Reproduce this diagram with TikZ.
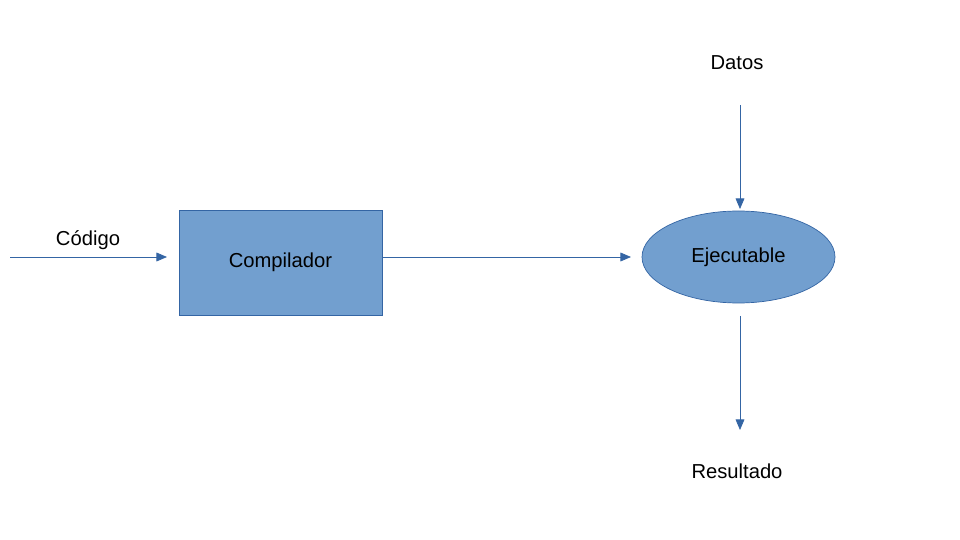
\documentclass[tikz,border=0pt]{standalone}
\usepackage{fontspec}
\setmainfont{Liberation Sans}
\usetikzlibrary{shapes.geometric,arrows.meta}
\definecolor{fillb}{HTML}{729FCF}
\definecolor{lineb}{HTML}{3465A4}
\begin{document}
\begin{tikzpicture}[x=0.02cm,y=-0.02cm,
  conn/.style={draw=lineb,-{Triangle[length=6pt,width=5pt]}},
  lbl/.style={font=\fontsize{11.5}{13}\selectfont}]
\useasboundingbox (0,0) rectangle (960,540);
\node[draw=lineb,fill=fillb,minimum width=203*0.02cm,minimum height=105*0.02cm,lbl] (comp) at (280.5,262.5) {Compilador};
\node[ellipse,draw=lineb,fill=fillb,minimum width=193*0.02cm,minimum height=92*0.02cm,inner sep=0pt,lbl] (ej) at (738.5,257) {Ejecutable};
\node[lbl] (cod) at (88,240) {Código};
\node[lbl] (dat) at (737,63) {Datos};
\node[lbl] (res) at (737,471) {Resultado};
\coordinate (cin) at (10,257);
\coordinate (cend) at (167,257);
\coordinate (o1) at (382,257);
\coordinate (o2) at (631,257);
\coordinate (d1) at (740,105);
\coordinate (d2) at (740,209);
\coordinate (r1) at (740,316);
\coordinate (r2) at (740,430);
\draw[conn] (cin) -- (cend);
\draw[conn] (o1) -- (o2);
\draw[conn] (d1) -- (d2);
\draw[conn] (r1) -- (r2);
\end{tikzpicture}
\end{document}
